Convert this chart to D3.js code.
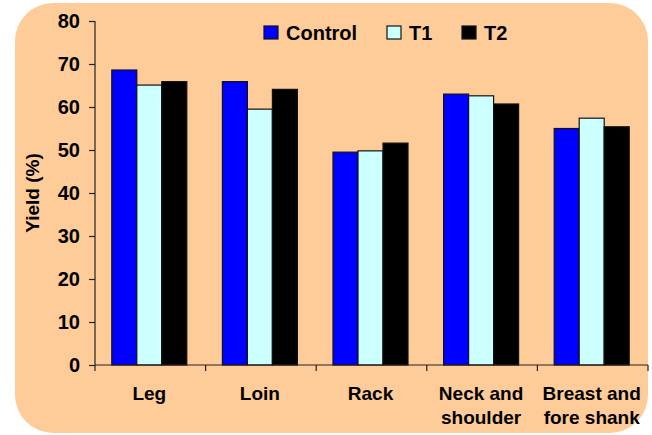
<!DOCTYPE html>
<html>
<head>
<meta charset="utf-8">
<script src="https://cdn.jsdelivr.net/npm/d3@7"></script>
<style>
  html, body { margin: 0; padding: 0; background: #ffffff; }
  svg { display: block; }
  text { font-family: "Liberation Sans", Arial, sans-serif; font-weight: bold; fill: #000; }
</style>
</head>
<body>
<svg id="chart" width="652" height="435"></svg>
<script>
// Carcass cut yields (%) per treatment
const categories = [["Leg"], ["Loin"], ["Rack"], ["Neck and", "shoulder"], ["Breast and", "fore shank"]];
const seriesNames = ["Control", "T1", "T2"];
const control = [68.6, 65.9, 49.5, 63.0, 55.0];
const t1 = [65.1, 59.5, 49.8, 62.6, 57.4];
const t2 = [65.9, 64.1, 51.6, 60.7, 55.4];
const yTicks = [0, 10, 20, 30, 40, 50, 60, 70, 80];
const colors = ["#0000FF", "#CCFFFF", "#000000"];

const values = [control, t1, t2];
const svg = d3.select("#chart");

// Rounded peach panel
svg.append("rect")
  .attr("x", 15).attr("y", 3)
  .attr("width", 633).attr("height", 430)
  .attr("rx", 38).attr("ry", 38)
  .attr("fill", "#FECC99");

const plotL = 95, plotR = 648, plotT = 21, plotB = 365;

const x0 = d3.scaleBand()
  .domain(d3.range(categories.length))
  .range([plotL, plotR])
  .padding(0);

const groupW = 75;
const x1 = d3.scaleBand()
  .domain(seriesNames)
  .range([0, groupW])
  .padding(0);

const y = d3.scaleLinear().domain([0, 80]).range([plotB, plotT]);

// Bars
const groups = svg.append("g").selectAll("g")
  .data(categories.map((c, i) => i))
  .join("g")
  .attr("transform", i => `translate(${x0(i) + (x0.bandwidth() - groupW) / 2 - 1},0)`);

groups.selectAll("rect")
  .data(i => seriesNames.map((s, k) => ({ s, k, v: values[k][i] })))
  .join("rect")
  .attr("x", d => x1(d.s))
  .attr("y", d => y(d.v))
  .attr("width", x1.bandwidth())
  .attr("height", d => y(0) - y(d.v))
  .attr("fill", d => colors[d.k])
  .attr("stroke", "#111")
  .attr("stroke-width", 1.2);

// Y axis
const yAxis = d3.axisLeft(y).tickValues(yTicks).tickSize(6).tickPadding(9);
const gy = svg.append("g").attr("transform", `translate(${plotL},0)`).call(yAxis);
gy.select(".domain").attr("stroke", "#222").attr("stroke-width", 1.2).attr("d", `M0,${plotT}V${plotB}`);
gy.selectAll(".tick line").attr("stroke", "#222").attr("stroke-width", 1.2);
gy.selectAll(".tick text")
  .style("font-family", "'Liberation Sans', Arial, sans-serif")
  .style("font-weight", "bold")
  .style("font-size", "20px")
  .attr("fill", "#000");

// X axis
const xAxis = d3.axisBottom(x0).tickValues([]).tickSize(0);
const gx = svg.append("g").attr("transform", `translate(0,${plotB})`).call(xAxis);
gx.select(".domain").attr("stroke", "#222").attr("stroke-width", 1.2).attr("d", `M${plotL},0H${plotR}`);
const boundaries = d3.range(categories.length + 1).map(i => plotL + i * x0.step());
gx.selectAll("line.sep")
  .data(boundaries)
  .join("line")
  .attr("class", "sep")
  .attr("x1", d => d).attr("x2", d => d)
  .attr("y1", 0).attr("y2", 6)
  .attr("stroke", "#222").attr("stroke-width", 1.2);

// Category labels
const lab = svg.append("g").selectAll("text")
  .data(categories.map((c, i) => ({ c, i })))
  .join("text")
  .attr("text-anchor", "middle")
  .attr("font-size", "19px")
  .attr("x", d => x0(d.i) + x0.bandwidth() / 2 - 1)
  .attr("y", 400);
lab.selectAll("tspan")
  .data(d => d.c.map((line, j) => ({ line, j, x: x0(d.i) + x0.bandwidth() / 2 - 1 })))
  .join("tspan")
  .attr("x", d => d.x)
  .attr("dy", d => d.j === 0 ? 0 : 24)
  .text(d => d.line);

// Y axis title
svg.append("text")
  .attr("transform", "translate(39,193) rotate(-90)")
  .attr("text-anchor", "middle")
  .attr("font-size", "19px")
  .text("Yield (%)");

// Legend
const legendX = [264, 387, 462];
const leg = svg.append("g").selectAll("g")
  .data(seriesNames)
  .join("g")
  .attr("transform", (d, k) => `translate(${legendX[k]},26)`);
leg.append("rect")
  .attr("width", 14).attr("height", 13)
  .attr("fill", (d, k) => colors[k])
  .attr("stroke", "#111").attr("stroke-width", 1.2);
leg.append("text")
  .attr("x", 22).attr("y", 13.5)
  .attr("font-size", "20px")
  .text(d => d);
</script>
</body>
</html>
